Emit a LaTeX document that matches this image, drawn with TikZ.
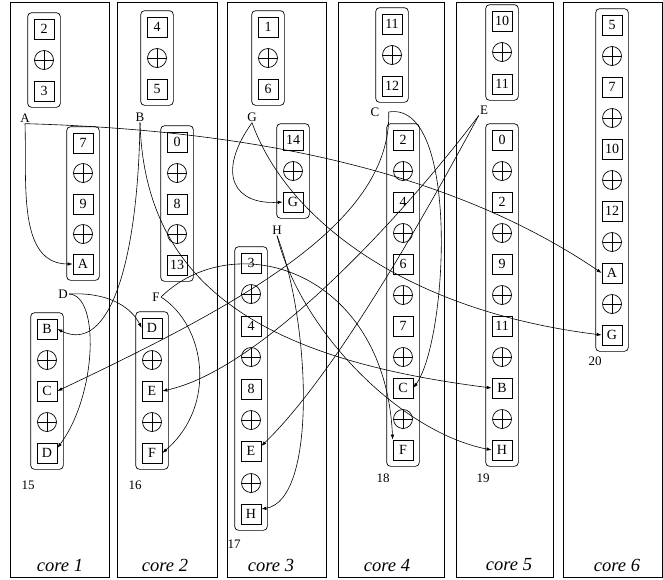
\documentclass[tikz,border=0pt]{standalone}
\usepackage{fontspec}
\setmainfont{Liberation Serif}
\usetikzlibrary{arrows.meta,fit}

\begin{document}
\begin{tikzpicture}[x=1pt, y=-1pt, line width=0.7pt,
    core/.style={draw, line width=0.9pt},
    corelab/.style={font=\fontsize{18.5}{20}\selectfont\itshape},
    val/.style={draw, minimum size=20pt, inner sep=0pt, font=\fontsize{14}{16}\selectfont},
    xorop/.style={circle, draw, minimum size=19pt, inner sep=0pt,
      path picture={\draw (path picture bounding box.north) -- (path picture bounding box.south)
        (path picture bounding box.west) -- (path picture bounding box.east);}},
    stack/.style={draw, rounded corners=4pt, inner sep=6pt},
    tag/.style={font=\fontsize{13}{15}\selectfont, inner sep=1pt},
    mv/.style={-{Latex[length=5pt,width=3.5pt]}, line width=0.6pt}
  ]
    \useasboundingbox (0,0) rectangle (663,579);

    % cores
    \draw[core] (10,2) rectangle (109,577);
    \draw[core] (117,2) rectangle (217,577);
    \draw[core] (227,2) rectangle (326,577);
    \draw[core] (338,2) rectangle (444,577);
    \draw[core] (456,2) rectangle (553,577);
    \draw[core] (563,2) rectangle (662,577);

    \node[corelab] (k1) at (60,565) {core 1};
    \node[corelab] (k2) at (165,565) {core 2};
    \node[corelab] (k3) at (271,565) {core 3};
    \node[corelab] (k4) at (387,565) {core 4};
    \node[corelab] (k5) at (509,565) {core 5};
    \node[corelab] (k6) at (617,565) {core 6};

    % core 1
    \node[val] (c1v2) at (44,29) {2};
    \node[xorop] (c1p1) at (44,60) {};
    \node[val] (c1v3) at (44,91) {3};
    \node[stack, fit=(c1v2)(c1v3)] (s1top) {};

    \node[val] (c1v7) at (83,143) {7};
    \node[xorop] (c1p2) at (83,173) {};
    \node[val] (c1v9) at (83,204) {9};
    \node[xorop] (c1p3) at (83,234) {};
    \node[val] (A1) at (83,264) {A};
    \node[stack, fit=(c1v7)(A1)] (s1mid) {};

    \node[val] (B1) at (47,329) {B};
    \node[xorop] (c1p4) at (47,360) {};
    \node[val] (C1) at (47,391) {C};
    \node[xorop] (c1p5) at (47,422) {};
    \node[val] (D1) at (47,453) {D};
    \node[stack, fit=(B1)(D1)] (s15) {};
    \node[tag] (n15) at (28,485) {15};

    % core 2
    \node[val] (c2v4) at (157,27) {4};
    \node[xorop] (c2p1) at (157,58) {};
    \node[val] (c2v5) at (157,89) {5};
    \node[stack, fit=(c2v4)(c2v5)] (s2top) {};

    \node[val] (c2v0) at (177,142) {0};
    \node[xorop] (c2p2) at (177,173) {};
    \node[val] (c2v8) at (177,204) {8};
    \node[xorop] (c2p3) at (177,234) {};
    \node[val] (c2v13) at (177,265) {13};
    \node[stack, fit=(c2v0)(c2v13)] (s2mid) {};

    \node[val] (D2) at (152,328) {D};
    \node[xorop] (c2p4) at (152,360) {};
    \node[val] (E2) at (152,391) {E};
    \node[xorop] (c2p5) at (152,422) {};
    \node[val] (F2) at (152,453) {F};
    \node[stack, fit=(D2)(F2)] (s16) {};
    \node[tag] (n16) at (135,485) {16};

    % core 3
    \node[val] (c3v1) at (268,27) {1};
    \node[xorop] (c3p1) at (268,58) {};
    \node[val] (c3v6) at (268,89) {6};
    \node[stack, fit=(c3v1)(c3v6)] (s3top) {};

    \node[val] (c3v14) at (293,140) {14};
    \node[xorop] (c3p2) at (293,171) {};
    \node[val] (G3) at (293,202) {G};
    \node[stack, fit=(c3v14)(G3)] (s3mid) {};

    \node[val] (c3v3) at (251,263) {3};
    \node[xorop] (c3p3) at (251,294) {};
    \node[val] (c3v4) at (251,326) {4};
    \node[xorop] (c3p4) at (251,357) {};
    \node[val] (c3v8) at (251,389) {8};
    \node[xorop] (c3p5) at (251,420) {};
    \node[val] (E3) at (251,451) {E};
    \node[xorop] (c3p6) at (251,483) {};
    \node[val] (H3) at (251,514) {H};
    \node[stack, fit=(c3v3)(H3)] (s17) {};
    \node[tag] (n17) at (234,544) {17};

    % core 4
    \node[val] (c4v11) at (392,24) {11};
    \node[xorop] (c4p1) at (392,55) {};
    \node[val] (c4v12) at (392,86) {12};
    \node[stack, fit=(c4v11)(c4v12)] (s4top) {};

    \node[val] (c4v2) at (403,140) {2};
    \node[xorop] (c4p2) at (403,171) {};
    \node[val] (c4v4) at (403,202) {4};
    \node[xorop] (c4p3) at (403,233) {};
    \node[val] (c4v6) at (403,264) {6};
    \node[xorop] (c4p4) at (403,295) {};
    \node[val] (c4v7) at (403,326) {7};
    \node[xorop] (c4p5) at (403,357) {};
    \node[val] (C4) at (403,388) {C};
    \node[xorop] (c4p6) at (403,419) {};
    \node[val] (F4) at (403,450) {F};
    \node[stack, fit=(c4v2)(F4)] (s18) {};
    \node[tag] (n18) at (383,478) {18};

    % core 5
    \node[val] (c5v10) at (502,21) {10};
    \node[xorop] (c5p1) at (502,52) {};
    \node[val] (c5v11) at (502,84) {11};
    \node[stack, fit=(c5v10)(c5v11)] (s5top) {};

    \node[val] (c5v0) at (502,140) {0};
    \node[xorop] (c5p2) at (502,171) {};
    \node[val] (c5v2) at (502,202) {2};
    \node[xorop] (c5p3) at (502,233) {};
    \node[val] (c5v9) at (502,264) {9};
    \node[xorop] (c5p4) at (502,295) {};
    \node[val] (c5v11b) at (502,326) {11};
    \node[xorop] (c5p5) at (502,357) {};
    \node[val] (B5) at (502,388) {B};
    \node[xorop] (c5p6) at (502,419) {};
    \node[val] (H5) at (502,450) {H};
    \node[stack, fit=(c5v0)(H5)] (s19) {};
    \node[tag] (n19) at (483,478) {19};

    % core 6
    \node[val] (c6v5) at (612,25) {5};
    \node[xorop] (c6p1) at (612,56) {};
    \node[val] (c6v7) at (612,87) {7};
    \node[xorop] (c6p2) at (612,118) {};
    \node[val] (c6v10) at (612,149) {10};
    \node[xorop] (c6p3) at (612,180) {};
    \node[val] (c6v12) at (612,211) {12};
    \node[xorop] (c6p4) at (612,242) {};
    \node[val] (A6) at (612,273) {A};
    \node[xorop] (c6p5) at (612,304) {};
    \node[val] (G6) at (612,335) {G};
    \node[stack, fit=(c6v5)(G6)] (s20) {};
    \node[tag] (n20) at (595,361) {20};

    % moved values
    \node[tag] (lA) at (25,118) {A};
    \node[tag] (lB) at (140,117) {B};
    \node[tag] (lG) at (252,117) {G};
    \node[tag] (lC) at (375,112) {C};
    \node[tag] (lE) at (484,110) {E};
    \node[tag] (lD) at (63,294) {D};
    \node[tag] (lF) at (156,297) {F};
    \node[tag] (lH) at (277,230) {H};

    \draw[mv] (lA.south) .. controls (27,183) and (17,264) .. (A1.west);
    \draw[mv] (lA.south) .. controls (250,130) and (450,170) .. (A6.west);

    \draw[mv] (lB.south) .. controls (138,260) and (110,355) .. (B1.east);
    \draw[mv] (lB.south) .. controls (145,290) and (270,360) .. (B5.west);

    \draw[mv] ([xshift=8pt]lC.east) .. controls (392,220) and (250,300) .. (C1.east);
    \draw[mv] ([xshift=8pt]lC.east) .. controls (460,100) and (448,340) .. (C4.east);

    \draw[mv] (lD.east) .. controls (105,292) and (130,305) .. (D2.west);
    \draw[mv] (lD.east) .. controls (100,295) and (97,395) .. ([yshift=5pt]D1.east);

    \draw[mv] (lE.south west) .. controls (400,220) and (260,370) .. (E2.east);
    \draw[mv] (lE.south west) .. controls (425,215) and (335,375) .. ([yshift=5pt]E3.east);

    \draw[mv] (lF.east) .. controls (205,325) and (218,405) .. (F2.east);
    \draw[mv] (lF.east) .. controls (235,225) and (385,270) .. (F4.north west);

    \draw[mv] (lG.south) .. controls (215,175) and (235,205) .. (G3.west);
    \draw[mv] (lG.south) .. controls (285,215) and (400,310) .. (G6.west);

    \draw[mv] (lH.south) .. controls (310,320) and (318,500) .. ([yshift=5pt]H3.east);
    \draw[mv] (lH.south) .. controls (300,330) and (400,432) .. (H5.west);
\end{tikzpicture}
\end{document}
